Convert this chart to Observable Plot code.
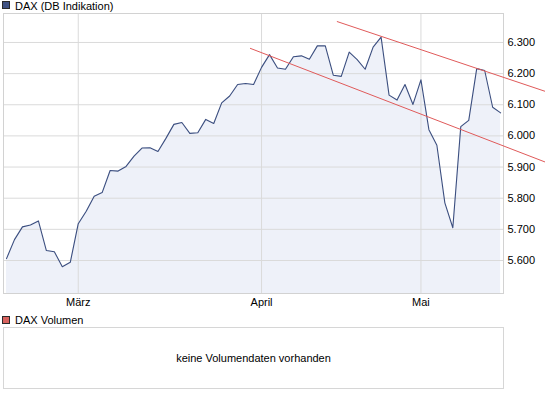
<!DOCTYPE html>
<html>
<head>
<meta charset="utf-8">
<script src="https://cdn.jsdelivr.net/npm/d3@7"></script>
<script src="https://cdn.jsdelivr.net/npm/@observablehq/plot@0.6"></script>
<style>
  body { margin: 0; background: #fff; font-family: "Liberation Sans", Arial, sans-serif; font-size: 11px; color: #000; }
  #wrap { position: relative; width: 545px; height: 395px; overflow: hidden; background: #fff; }
  #chart { position: absolute; left: 0; top: 0; }
  .sw { position: absolute; width: 8px; height: 8px; box-sizing: border-box; border: 1px solid #2a2a2a; }
  .lg { position: absolute; left: 15px; height: 12px; line-height: 12px; white-space: nowrap; }
  #volbox { position: absolute; left: 3px; top: 327px; width: 501px; height: 62px; box-sizing: border-box;
            border: 1px solid #d6d6d6; display: flex; align-items: center; justify-content: center; font-size: 11px; }
</style>
</head>
<body>
<div id="wrap">
  <div id="chart"></div>
  <div class="sw" style="left:2px;top:1px;background:#3f5283;"></div>
  <div class="lg" style="top:0px;">DAX (DB Indikation)</div>
  <div class="sw" style="left:2px;top:316px;background:#d8625e;"></div>
  <div class="lg" style="top:314px;">DAX Volumen</div>
  <div id="volbox">keine Volumendaten vorhanden</div>
</div>
<script>
// Trading days (index axis)
const dates = [
  "2010-02-16","2010-02-17","2010-02-18","2010-02-19","2010-02-22","2010-02-23","2010-02-24","2010-02-25","2010-02-26",
  "2010-03-01","2010-03-02","2010-03-03","2010-03-04","2010-03-05","2010-03-08","2010-03-09","2010-03-10","2010-03-11","2010-03-12",
  "2010-03-15","2010-03-16","2010-03-17","2010-03-18","2010-03-19","2010-03-22","2010-03-23","2010-03-24","2010-03-25","2010-03-26",
  "2010-03-29","2010-03-30","2010-03-31",
  "2010-04-01","2010-04-06","2010-04-07","2010-04-08","2010-04-09","2010-04-12","2010-04-13","2010-04-14","2010-04-15","2010-04-16",
  "2010-04-19","2010-04-20","2010-04-21","2010-04-22","2010-04-23","2010-04-26","2010-04-27","2010-04-28","2010-04-29","2010-04-30",
  "2010-05-03","2010-05-04","2010-05-05","2010-05-06","2010-05-07","2010-05-10","2010-05-11","2010-05-12","2010-05-13","2010-05-14",
  "2010-05-17"
];
const values = [
  5606, 5667, 5708, 5714, 5727, 5632, 5628, 5580, 5594,
  5718, 5758, 5806, 5818, 5889, 5887, 5902, 5935, 5961, 5962,
  5950, 5992, 6037, 6043, 6008, 6010, 6053, 6040, 6106, 6128,
  6165, 6168, 6165,
  6220, 6261, 6218, 6214, 6254, 6257, 6246, 6289, 6289,
  6195, 6191, 6269, 6245, 6214, 6285, 6317, 6131, 6115, 6165, 6101,
  6180, 6020, 5970, 5785, 5705, 6030, 6050, 6216, 6210, 6092,
  6074
];
const monthStarts = ["2010-03-01", "2010-04-01", "2010-05-03"];
const monthLabels = ["März", "April", "Mai"];
const yTicks = [5600, 5700, 5800, 5900, 6000, 6100, 6200, 6300];
// trend channel lines: [trading-day index, value]
const lowerTrend = [[30.6, 6281], [67.6, 5916]];
const upperTrend = [[41.5, 6367], [67.6, 6143]];

const yMin = 5494, yMax = 6393;
const data = dates.map((d, i) => ({i, date: d, value: values[i]}));
const monthIdx = monthStarts.map(d => dates.indexOf(d));
const de = d3.formatLocale({decimal: ",", thousands: ".", grouping: [3], currency: ["", " €"]});
const fmt = de.format(",");

const chart = Plot.plot({
  width: 545,
  height: 315,
  marginLeft: 3,
  marginRight: 42,
  marginTop: 13,
  marginBottom: 22,
  style: {fontFamily: "'Liberation Sans', Arial, sans-serif", fontSize: "11px", color: "#000", background: "transparent", overflow: "visible"},
  x: {type: "linear", domain: [-0.38, 62.36]},
  y: {domain: [yMin, yMax]},
  marks: [
    Plot.area(data, {x1: "i", y1: yMin, y2: "value", fill: "#eef1f9"}),
    Plot.ruleY(yTicks, {stroke: "#dadada"}),
    Plot.ruleX(monthIdx, {stroke: "#dadada"}),
    Plot.frame({stroke: "#d2d2d2"}),
    Plot.line(data, {x: "i", y: "value", stroke: "#3b4e7f", strokeWidth: 1.1}),
    Plot.line(lowerTrend, {x: d => d[0], y: d => d[1], stroke: "#e05a5a", strokeWidth: 1}),
    Plot.line(upperTrend, {x: d => d[0], y: d => d[1], stroke: "#e05a5a", strokeWidth: 1}),
    Plot.axisY(yTicks, {anchor: "right", tickSize: 0, tickPadding: 4, label: null, tickFormat: fmt}),
    Plot.axisX(monthIdx, {anchor: "bottom", tickSize: 0, tickPadding: 5, label: null, tickFormat: (d, k) => monthLabels[k]})
  ]
});
document.getElementById("chart").appendChild(chart);
</script>
</body>
</html>
